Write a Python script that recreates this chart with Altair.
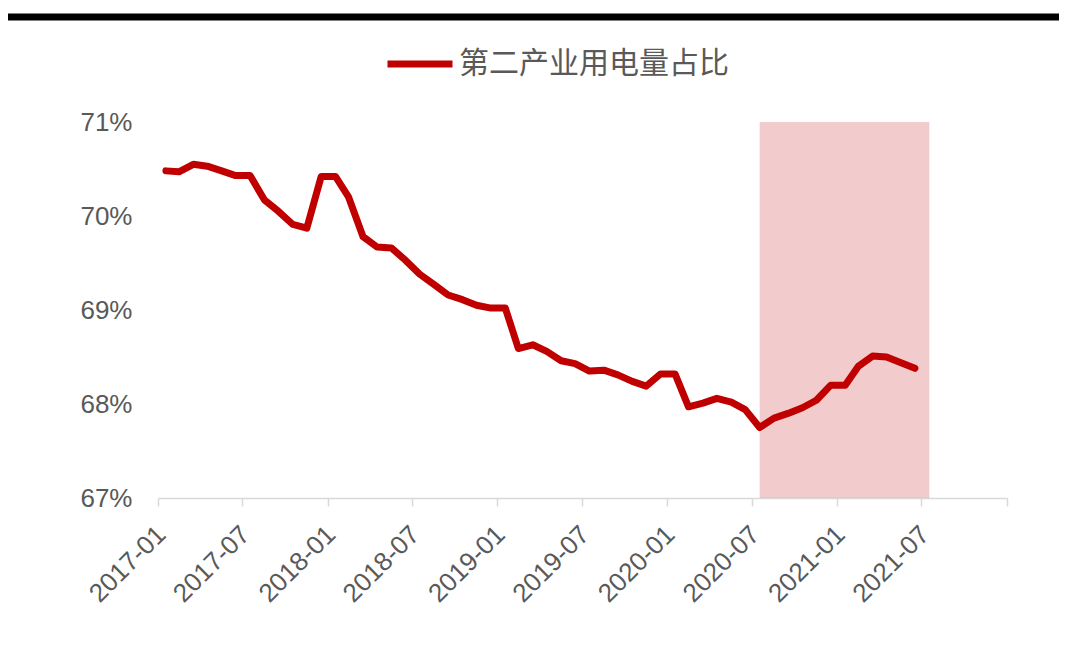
import altair as alt
import pandas as pd

SERIES = "第二产业用电量占比"

months = [
    "2017-02", "2017-03", "2017-04", "2017-05", "2017-06", "2017-07", "2017-08",
    "2017-09", "2017-10", "2017-11", "2017-12",
    "2018-01", "2018-02", "2018-03", "2018-04", "2018-05", "2018-06", "2018-07",
    "2018-08", "2018-09", "2018-10", "2018-11", "2018-12",
    "2019-01", "2019-02", "2019-03", "2019-04", "2019-05", "2019-06", "2019-07",
    "2019-08", "2019-09", "2019-10", "2019-11", "2019-12",
    "2020-01", "2020-02", "2020-03", "2020-04", "2020-05", "2020-06", "2020-07",
    "2020-08", "2020-09", "2020-10", "2020-11", "2020-12",
    "2021-01", "2021-02", "2021-03", "2021-04", "2021-05", "2021-06", "2021-07",
]

share = [
    70.48, 70.47, 70.55, 70.53, 70.48, 70.43, 70.43, 70.17, 70.05, 69.91, 69.87,
    70.42, 70.42, 70.20, 69.78, 69.67, 69.66, 69.53, 69.38, 69.27, 69.16, 69.11, 69.05,
    69.02, 69.02, 68.59, 68.63, 68.56, 68.46, 68.43, 68.35, 68.36, 68.31, 68.24, 68.19,
    68.32, 68.32, 67.97, 68.01, 68.06, 68.02, 67.94, 67.75, 67.85, 67.90, 67.96, 68.04,
    68.20, 68.20, 68.40, 68.51, 68.50, 68.44, 68.38,
]

shade_start = ["2020-08-01"]
shade_end = ["2021-08-01"]
y_ticks = [67, 68, 69, 70, 71]
tick_years_months = [(2017, 1), (2017, 7), (2018, 1), (2018, 7), (2019, 1), (2019, 7),
                     (2020, 1), (2020, 7), (2021, 1), (2021, 7), (2022, 1)]

df = pd.DataFrame({
    "month": [m + "-01" for m in months],
    "value": share,
    "series": [SERIES] * len(share),
})
shade_df = pd.DataFrame({"start": shade_start, "end": shade_end,
                         "top": [max(y_ticks)], "bottom": [min(y_ticks)]})

x_scale = alt.Scale(
    type="utc",
    domain=[alt.DateTime(year=2017, month=1, date=15, utc=True),
            alt.DateTime(year=2022, month=1, date=15, utc=True)],
)
y_scale = alt.Scale(domain=[min(y_ticks), max(y_ticks)], nice=False, zero=False)

x_axis = alt.Axis(
    values=[alt.DateTime(year=y, month=m, date=15, utc=True) for y, m in tick_years_months],
    labelExpr="utcyear(datum.value) >= 2022 ? '' : utcFormat(datum.value, '%Y-%m')",
    title=None,
    grid=False,
    domainColor="#D9D9D9",
    domainWidth=1.5,
    tickColor="#D9D9D9",
    tickWidth=1.5,
    tickSize=8,
    labelAngle=-45,
    labelAlign="right",
    labelBaseline="middle",
    labelPadding=24,
    labelOffset=3,
    labelFont="Liberation Sans",
    labelFontSize=26,
    labelColor="#595959",
    labelOverlap=False,
    labelBound=False,
)
y_axis = alt.Axis(
    values=y_ticks,
    labelExpr="datum.value + '%'",
    title=None,
    grid=False,
    domain=False,
    ticks=False,
    labelPadding=26,
    labelFont="Liberation Sans",
    labelFontSize=26,
    labelColor="#595959",
)

shade = alt.Chart(shade_df).mark_rect(color="#C00000", opacity=0.2).encode(
    x=alt.X("start:T", scale=x_scale, axis=x_axis),
    x2="end:T",
    y=alt.Y("top:Q", scale=y_scale, axis=y_axis),
    y2="bottom:Q",
)

line = alt.Chart(df).mark_line(strokeWidth=7, strokeJoin="round", strokeCap="round").encode(
    x=alt.X("month:T", scale=x_scale, axis=x_axis),
    y=alt.Y("value:Q", scale=y_scale, axis=y_axis),
    color=alt.Color(
        "series:N",
        scale=alt.Scale(domain=[SERIES], range=["#C00000"]),
        legend=alt.Legend(
            title=None,
            orient="none",
            legendX=226,
            legendY=-94,
            symbolType="stroke",
            symbolSize=4225,
            symbolStrokeWidth=7,
            labelFont="Noto Sans CJK SC",
            labelFontSize=30,
            labelColor="#595959",
            labelOffset=3,
            labelLimit=400,
            padding=0,
        ),
    ),
)

top_bar = alt.Chart(shade_df).mark_rule(color="black", strokeWidth=7).encode(
    x=alt.value(-150), x2=alt.value(901), y=alt.value(-105)
)

chart = alt.layer(shade, line, top_bar).properties(
    width=849,
    height=376,
    padding={"left": 150, "top": 114, "right": 52, "bottom": 140},
    autosize=alt.AutoSizeParams(type="none"),
    background="white",
).configure_view(strokeWidth=0, stroke="transparent")

chart.save("out.html", embed_options={"renderer": "svg", "actions": False})
